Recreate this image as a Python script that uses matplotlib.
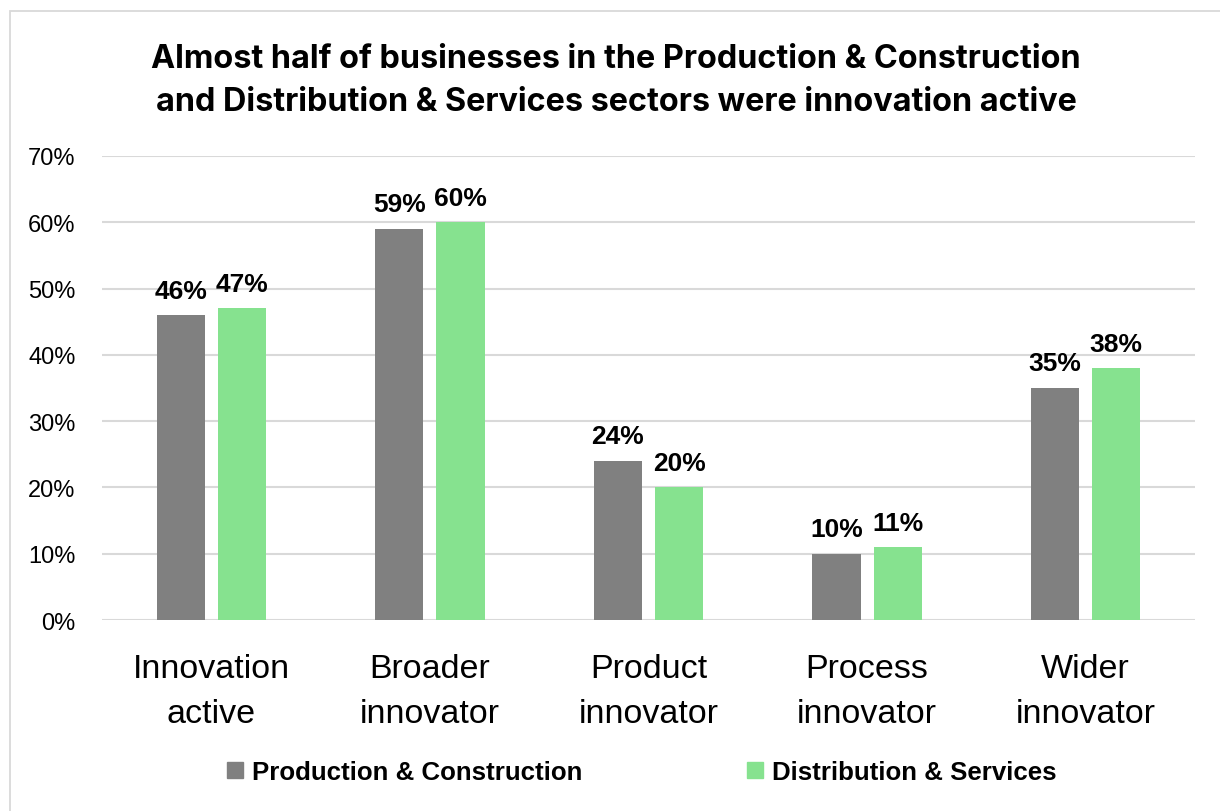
import matplotlib.pyplot as plt
import numpy as np
from matplotlib.patches import Rectangle

categories = ["Innovation\nactive", "Broader\ninnovator", "Product\ninnovator", "Process\ninnovator", "Wider\ninnovator"]
prod_constr = [46, 59, 24, 10, 35]
dist_serv = [47, 60, 20, 11, 38]
series_names = ["Production & Construction", "Distribution & Services"]
yticks = [0, 10, 20, 30, 40, 50, 60, 70]

GREY = "#808080"
GREEN = "#86E28F"
GRID = "#D9D9D9"

plt.rcParams['font.family'] = ['Liberation Sans', 'DejaVu Sans']

fig = plt.figure(figsize=(12.2, 8.12), dpi=100)
ax = fig.add_axes([0.0836, 0.2352, 0.8959, 0.5715])

# outer chart frame (top and left edges only show)
fig.patches.append(Rectangle((10 / 1220, -0.05), 1.2, 1 - 12 / 812 + 0.05,
                             transform=fig.transFigure, fill=False,
                             edgecolor=GRID, linewidth=1.3))

x = np.arange(len(categories))
w = 0.22
off = 0.14
b1 = ax.bar(x - off, prod_constr, w, color=GREY, zorder=3)
b2 = ax.bar(x + off, dist_serv, w, color=GREEN, zorder=3)

for bars, vals in [(b1, prod_constr), (b2, dist_serv)]:
    for r, v in zip(bars, vals):
        ax.annotate(f"{v}%", (r.get_x() + r.get_width() / 2, v),
                    xytext=(0, 9), textcoords="offset points",
                    ha="center", va="bottom", fontsize=19, fontweight="bold")

ax.set_ylim(0, 70)
ax.set_xlim(-0.5, len(categories) - 0.5)
ax.set_yticks(yticks)
ax.set_yticklabels([f"{t}%" for t in yticks])
ax.set_xticks(x)
ax.set_xticklabels(categories, fontsize=24.5, linespacing=1.6)
ax.tick_params(axis="y", length=0, labelsize=17, pad=19)
ax.tick_params(axis="x", length=0, pad=23.5)
ax.grid(axis="y", color=GRID, linewidth=1.5, zorder=0)
for s in ax.spines.values():
    s.set_visible(False)

fig.text(0.505, 1 - 81 / 812,
         "Almost half of businesses in the Production & Construction\n"
         "and Distribution & Services sectors were innovation active",
         ha="center", va="center", fontsize=23.3, fontweight="bold",
         linespacing=1.5, family=["Inter", "DejaVu Sans"])

handles = [Rectangle((0, 0), 1, 1, color=GREY), Rectangle((0, 0), 1, 1, color=GREEN)]
fig.legend(handles, series_names, loc="center", bbox_to_anchor=(0.526, 1 - 773 / 812),
           ncol=2, frameon=False, prop={"size": 18.6, "weight": "bold"},
           handlelength=0.62, handleheight=0.62, handletextpad=0.35,
           columnspacing=6.4)

fig.savefig("out.png", dpi=100)
